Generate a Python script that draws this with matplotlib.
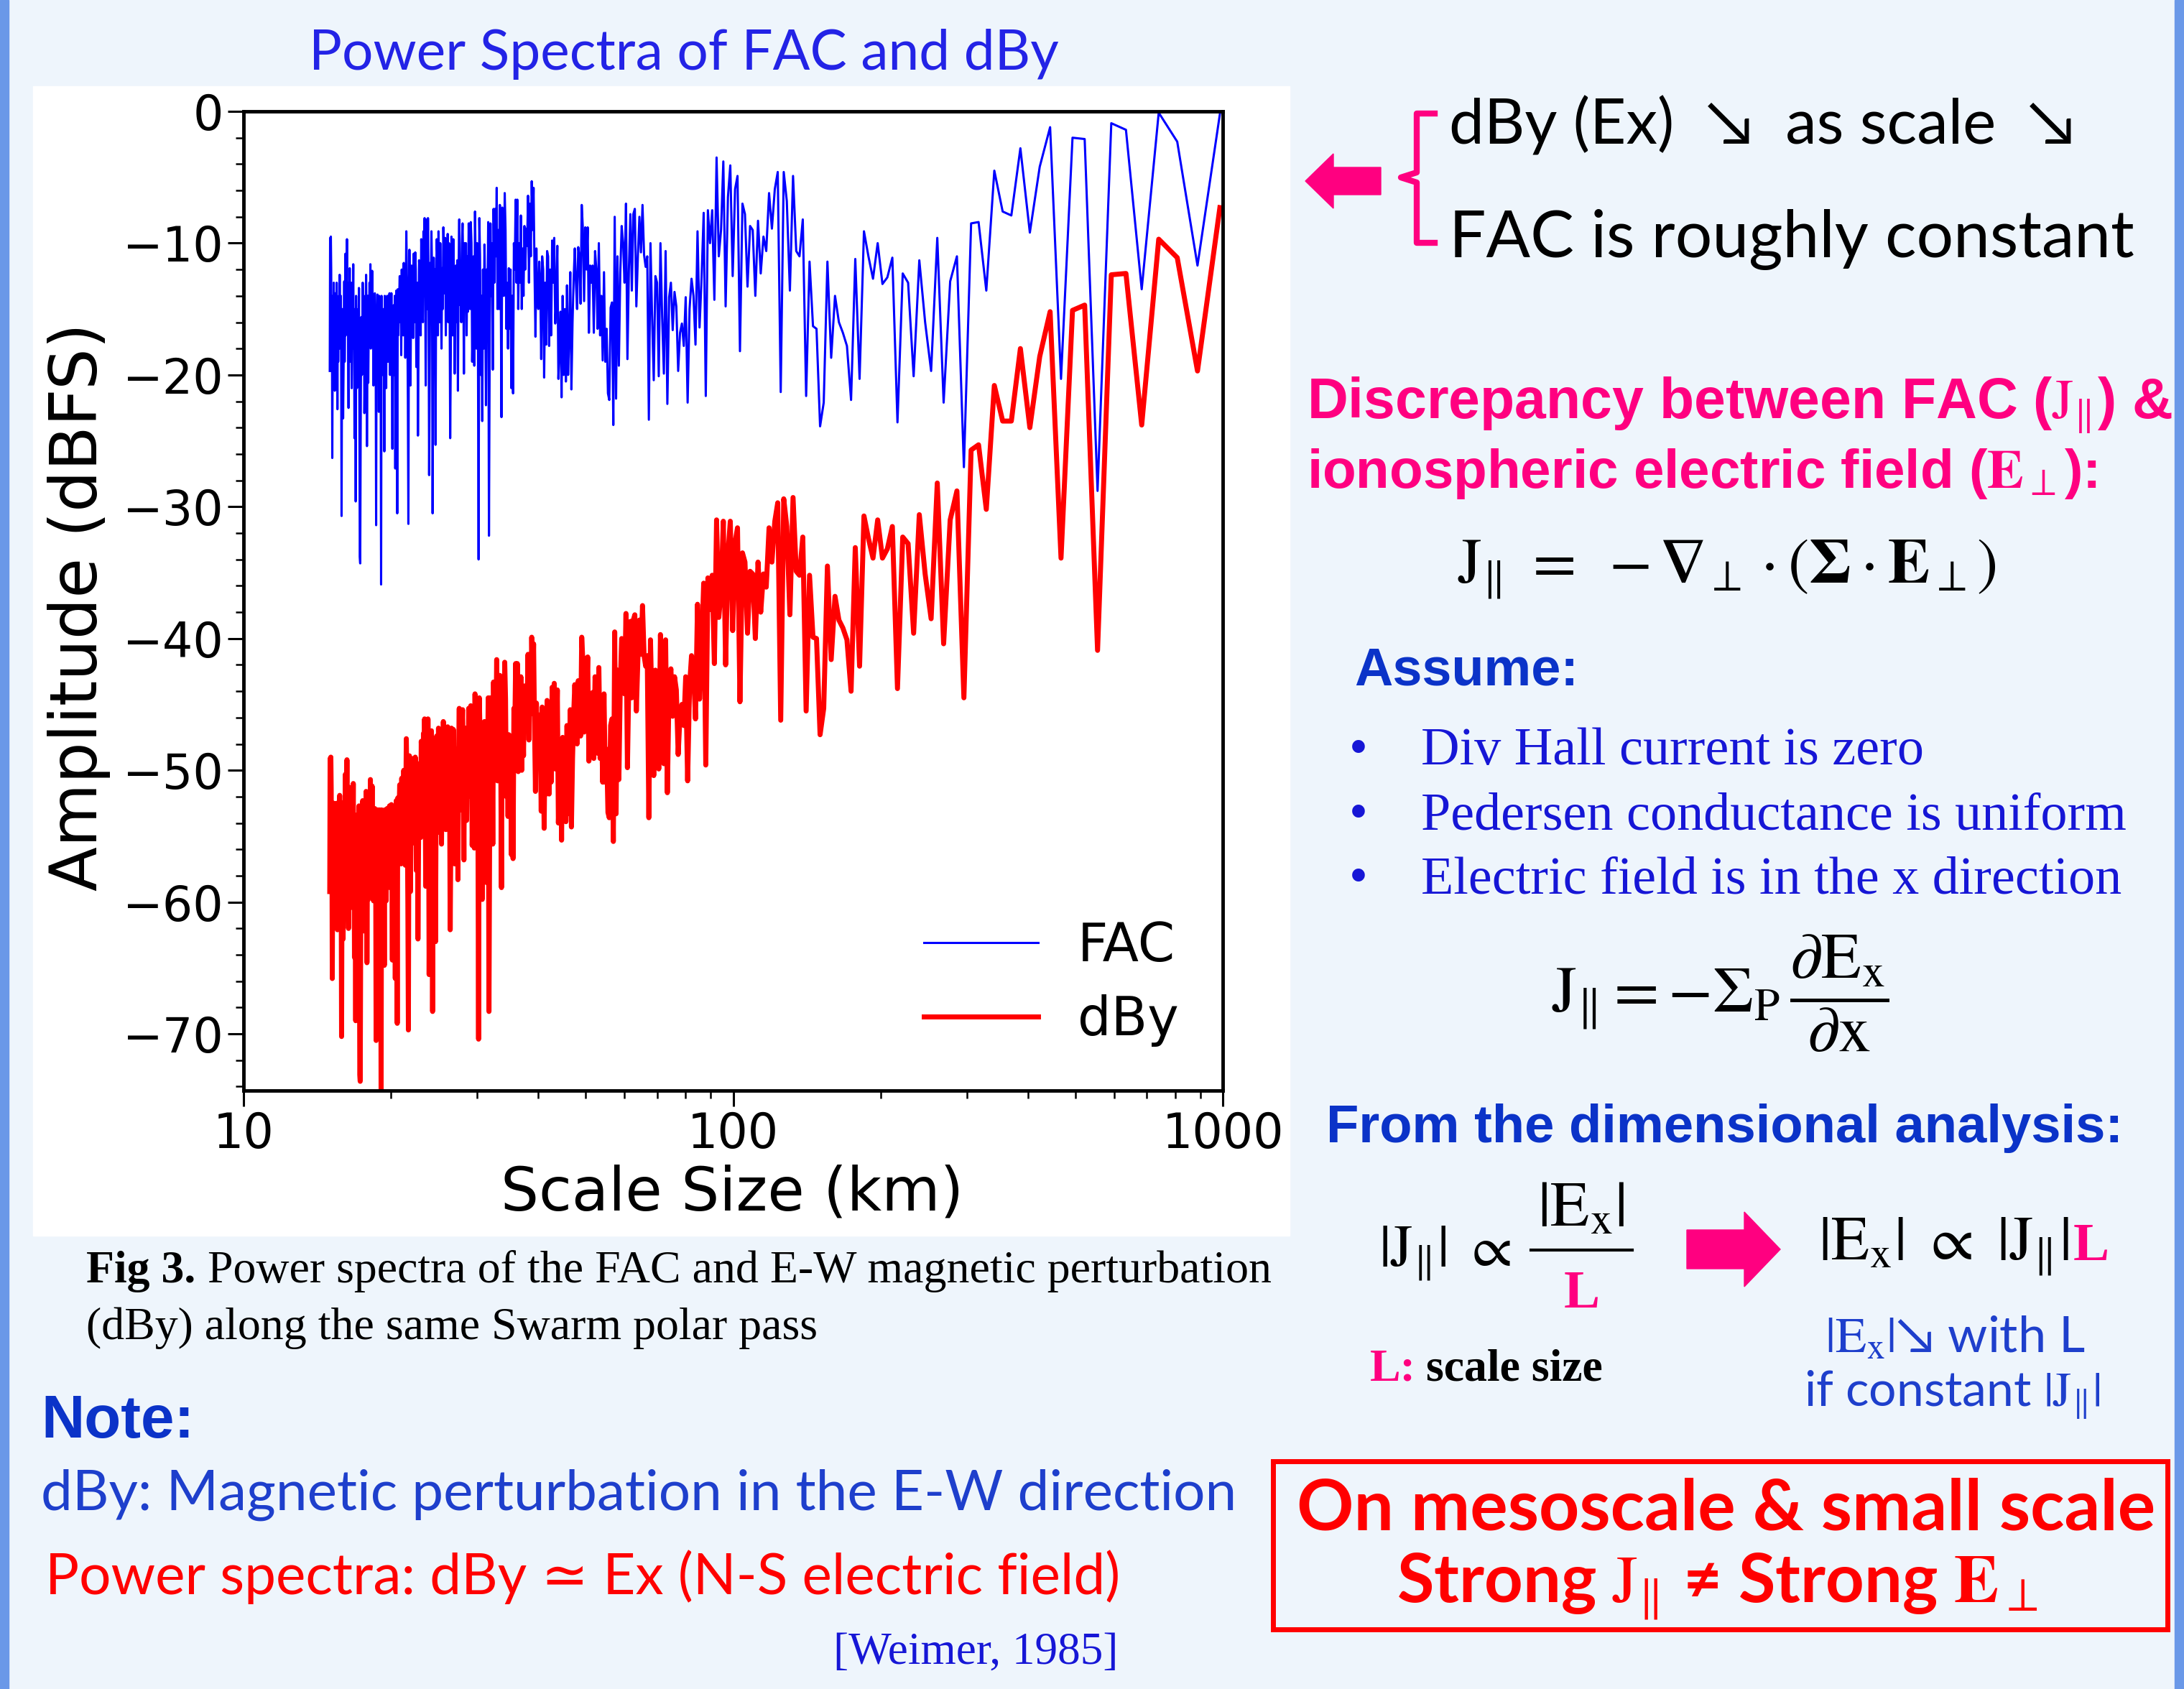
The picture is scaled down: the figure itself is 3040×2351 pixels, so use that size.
import numpy as np
import matplotlib.pyplot as plt
from matplotlib.patches import Rectangle, Polygon
from matplotlib.lines import Line2D
from matplotlib.ticker import LogLocator, MultipleLocator, NullFormatter

plt.rcParams['mathtext.fontset'] = 'stix'

W, H = 3040, 2351

# spectrum bins: scale size = pass length / wavenumber
track_km = 8880.0
wavenumber = np.arange(9, 593)
scale_km = track_km / wavenumber

fac_db = [
    -0.2, -11.7, -2.3, -0.1, -13.5, -1.4, -0.9, -28.8, -2.1, -2.0, -20.3, -1.2, -4.2, -9.2, -2.8, -7.9, -7.6, -4.5, -13.6, -8.4,
    -8.5, -27.0, -11.0, -12.9, -22.1, -9.6, -19.7, -16.0, -11.3, -20.1, -13.0, -12.3, -23.6, -11.1, -12.6, -13.1, -10.0, -12.7, -11.0, -9.1,
    -20.3, -11.2, -21.9, -17.8, -16.8, -16.0, -14.0, -18.7, -11.4, -22.1, -23.9, -16.5, -16.3, -11.4, -21.6, -8.2, -11.0, -10.6, -4.9, -13.6,
    -6.8, -4.6, -21.3, -4.6, -5.9, -8.9, -6.2, -10.6, -9.5, -12.3, -8.3, -14.0, -9.0, -8.7, -13.3, -7.8, -7.0, -18.2, -4.9, -5.9,
    -12.5, -4.1, -6.5, -14.8, -3.8, -9.0, -11.0, -3.5, -14.3, -7.5, -10.0, -7.5, -21.6, -7.7, -12.6, -16.4, -9.1, -17.7, -14.0, -12.7,
    -15.0, -22.1, -14.1, -17.8, -16.1, -16.8, -19.7, -14.8, -13.7, -16.6, -13.0, -14.1, -22.2, -10.6, -19.9, -15.6, -10.0, -20.1, -13.0, -12.5,
    -20.4, -15.6, -10.0, -23.4, -11.0, -11.8, -10.9, -7.1, -10.7, -8.0, -11.0, -14.8, -7.4, -7.8, -13.6, -7.8, -12.0, -18.8, -7.0, -13.0,
    -10.0, -8.7, -12.3, -19.3, -11.0, -21.8, -8.0, -23.8, -14.5, -14.9, -21.9, -21.4, -16.5, -19.0, -12.2, -18.9, -14.0, -17.0, -10.0, -16.5,
    -12.0, -10.6, -16.8, -11.7, -13.0, -11.7, -16.8, -8.8, -12.0, -8.8, -14.4, -9.0, -7.1, -14.6, -11.0, -10.3, -15.0, -13.0, -10.4, -12.7,
    -16.0, -21.1, -12.2, -17.0, -20.0, -13.2, -20.5, -15.0, -20.0, -14.0, -21.7, -15.2, -18.0, -20.3, -10.2, -14.0, -16.1, -9.6, -13.0, -9.8,
    -17.0, -12.0, -17.8, -11.0, -10.6, -17.7, -13.0, -20.2, -12.0, -11.0, -18.8, -13.0, -11.4, -15.0, -14.4, -10.4, -17.1, -12.0, -5.8, -9.0,
    -5.3, -11.0, -7.0, -13.0, -6.4, -10.2, -8.9, -12.0, -8.7, -14.0, -10.4, -15.0, -7.9, -13.0, -10.0, -15.0, -6.7, -13.0, -6.7, -12.0,
    -10.0, -21.4, -14.0, -21.0, -12.0, -16.5, -11.9, -18.0, -13.0, -16.5, -9.0, -6.2, -14.0, -8.0, -7.3, -23.2, -12.0, -7.1, -15.0, -9.0,
    -15.0, -5.8, -11.0, -7.4, -13.0, -7.4, -19.6, -10.0, -14.0, -8.5, -17.0, -32.2, -8.4, -15.0, -12.0, -22.3, -14.0, -10.1, -18.0, -12.0,
    -23.5, -14.0, -20.0, -11.0, -8.1, -34.0, -15.0, -10.0, -18.0, -12.0, -7.6, -19.3, -11.0, -16.0, -19.0, -10.0, -8.4, -15.0, -12.0, -8.5,
    -15.2, -11.0, -17.0, -10.0, -14.0, -10.0, -19.9, -12.0, -8.5, -10.0, -16.0, -13.3, -14.7, -8.2, -12.0, -21.2, -11.3, -16.0, -11.7, -15.0,
    -19.9, -13.0, -9.7, -17.0, -12.0, -9.5, -18.0, -24.8, -13.0, -10.0, -16.0, -9.3, -14.7, -12.0, -17.0, -9.6, -13.8, -11.0, -8.8, -15.0,
    -11.9, -18.0, -14.0, -10.0, -16.0, -12.0, -9.1, -17.0, -11.0, -9.7, -14.0, -25.3, -12.0, -16.0, -11.1, -18.0, -30.5, -12.0, -9.1, -14.0,
    -11.5, -20.0, -27.6, -13.0, -8.1, -15.0, -8.2, -13.0, -20.8, -12.0, -8.1, -14.0, -9.1, -16.0, -14.8, -11.0, -9.7, -17.0, -14.5, -12.0,
    -11.3, -18.0, -24.6, -13.0, -15.0, -19.4, -12.0, -10.7, -16.0, -13.0, -10.8, -17.2, -14.0, -12.0, -11.7, -15.0, -20.8, -13.0, -10.5, -14.0,
    -31.3, -21.8, -16.0, -12.0, -9.1, -14.0, -18.7, -12.0, -15.0, -11.5, -17.0, -13.0, -15.1, -12.0, -18.5, -13.6, -16.0, -12.5, -14.0, -15.0,
    -17.0, -13.5, -30.5, -16.0, -13.6, -18.0, -27.1, -14.0, -20.0, -14.7, -17.0, -15.0, -25.6, -18.0, -13.8, -18.7, -15.0, -20.0, -13.8, -17.0,
    -14.0, -19.0, -15.0, -14.0, -15.0, -21.0, -15.5, -18.0, -14.0, -25.8, -17.0, -15.0, -15.8, -20.0, -17.0, -14.0, -35.9, -18.0, -16.5, -19.0,
    -14.0, -22.8, -16.0, -19.0, -13.9, -17.0, -15.0, -31.4, -18.0, -15.0, -13.8, -17.0, -15.0, -20.8, -14.0, -17.0, -12.1, -16.0, -14.0, -18.0,
    -11.6, -15.0, -13.0, -15.1, -17.0, -20.6, -14.0, -19.0, -25.4, -16.0, -12.4, -17.0, -14.0, -20.0, -22.9, -15.0, -18.0, -15.1, -13.0, -17.0,
    -20.0, -15.6, -18.0, -25.0, -34.3, -33.8, -22.0, -13.4, -18.0, -15.0, -20.0, -16.0, -21.0, -18.0, -14.0, -29.6, -17.0, -20.0, -24.8, -15.0,
    -18.0, -11.6, -15.0, -13.0, -17.0, -21.0, -16.0, -13.0, -15.0, -19.0, -11.9, -16.0, -14.0, -22.5, -17.0, -13.0, -15.0, -9.7, -14.0, -12.0,
    -17.0, -10.8, -16.0, -19.0, -12.9, -17.0, -20.0, -23.3, -18.0, -15.0, -20.0, -30.7, -19.0, -14.0, -16.0, -17.0, -12.4, -18.0, -14.0, -16.0,
    -19.0, -15.0, -22.6, -16.0, -13.0, -18.0, -14.0, -16.0, -13.8, -21.2, -15.0, -18.0, -13.0, -19.0, -14.0, -18.0, -26.3, -15.0, -19.7, -12.0,
    -9.5, -17.0, -9.6, -19.7,
]

dby_db = [
    -7.3, -19.7, -11.1, -9.7, -23.8, -12.3, -12.4, -40.9, -14.7, -15.1, -33.9, -15.2, -18.6, -24.0, -18.0, -23.5, -23.5, -20.8, -30.2, -25.3,
    -25.7, -44.5, -28.8, -31.0, -40.4, -28.2, -38.5, -35.1, -30.6, -39.6, -32.8, -32.3, -43.8, -31.5, -33.2, -33.9, -31.0, -33.9, -32.4, -30.7,
    -42.1, -33.1, -44.0, -40.1, -39.2, -38.6, -36.8, -41.6, -34.5, -45.3, -47.3, -40.0, -39.9, -35.2, -45.5, -32.3, -35.2, -34.9, -29.3, -38.2,
    -31.5, -29.4, -46.2, -29.7, -31.1, -34.2, -31.6, -36.1, -35.1, -38.0, -34.2, -40.0, -35.1, -34.9, -39.6, -34.2, -33.5, -44.8, -31.6, -32.7,
    -39.4, -31.1, -33.6, -42.0, -31.1, -36.4, -38.4, -31.0, -41.9, -35.2, -37.8, -35.4, -49.6, -35.8, -40.8, -44.6, -37.4, -46.1, -42.5, -41.3,
    -43.6, -50.8, -42.9, -46.6, -45.0, -45.8, -48.8, -43.9, -42.9, -45.9, -42.3, -43.5, -51.7, -40.1, -49.5, -45.3, -39.7, -49.9, -42.9, -42.4,
    -50.4, -45.7, -40.1, -53.6, -41.3, -42.1, -41.3, -37.5, -41.2, -38.6, -41.6, -45.5, -38.2, -38.6, -44.5, -38.7, -43.0, -49.8, -38.1, -44.2,
    -41.2, -40.0, -43.6, -50.7, -42.4, -53.3, -39.5, -55.4, -46.1, -46.6, -53.6, -53.2, -48.4, -50.9, -44.2, -50.9, -46.1, -49.1, -42.2, -48.7,
    -44.3, -42.9, -49.1, -44.1, -45.4, -44.2, -49.3, -41.4, -44.6, -41.5, -47.1, -41.8, -39.9, -47.4, -43.9, -43.2, -48.0, -46.0, -43.5, -45.8,
    -49.1, -54.3, -45.4, -50.3, -53.3, -46.6, -53.9, -48.4, -53.5, -47.5, -55.3, -48.8, -51.6, -54.0, -43.9, -47.7, -49.9, -43.4, -46.8, -43.7,
    -50.9, -46.0, -51.8, -45.0, -44.7, -51.8, -47.1, -54.4, -46.2, -45.2, -53.1, -47.3, -45.8, -49.4, -48.8, -44.9, -51.6, -46.5, -40.4, -43.6,
    -39.9, -45.7, -41.7, -47.7, -41.2, -45.0, -43.7, -46.9, -43.6, -48.9, -45.4, -50.0, -42.9, -48.1, -45.1, -50.1, -41.9, -48.2, -41.9, -47.2,
    -45.3, -56.7, -49.3, -56.4, -47.4, -51.9, -47.3, -53.5, -48.5, -52.0, -44.6, -41.8, -49.6, -43.6, -43.0, -58.9, -47.7, -42.8, -50.8, -44.8,
    -50.8, -41.6, -46.9, -43.3, -48.9, -43.3, -55.6, -46.0, -50.0, -44.5, -53.1, -68.3, -44.5, -51.2, -48.2, -58.5, -50.2, -46.3, -54.3, -48.3,
    -59.8, -50.3, -56.4, -47.4, -44.5, -70.4, -51.5, -46.5, -54.5, -48.5, -44.2, -55.9, -47.6, -52.6, -55.7, -46.7, -45.1, -51.7, -48.7, -45.3,
    -52.0, -47.8, -53.8, -46.8, -50.9, -46.9, -56.8, -48.9, -45.4, -47.0, -53.0, -50.3, -51.7, -45.3, -49.1, -58.3, -48.4, -53.1, -48.9, -52.2,
    -57.1, -50.2, -46.9, -54.2, -49.3, -46.8, -55.3, -62.1, -50.3, -47.4, -53.4, -46.7, -52.1, -49.4, -54.5, -47.1, -51.3, -48.5, -46.3, -52.5,
    -49.5, -55.6, -51.6, -47.6, -53.6, -49.6, -46.8, -54.7, -48.7, -47.4, -51.7, -63.0, -49.8, -53.8, -48.9, -55.8, -68.3, -49.8, -47.0, -51.9,
    -49.4, -57.9, -65.5, -50.9, -46.1, -53.0, -46.2, -51.0, -58.8, -50.0, -46.1, -52.1, -47.2, -54.1, -52.9, -49.1, -47.8, -55.1, -52.7, -50.2,
    -49.5, -56.2, -62.8, -51.2, -53.2, -57.6, -50.2, -49.0, -54.3, -51.3, -49.1, -55.5, -52.3, -50.3, -50.1, -53.4, -59.2, -51.4, -48.9, -52.4,
    -69.7, -60.2, -54.4, -50.5, -47.6, -52.5, -57.2, -50.5, -53.5, -50.0, -55.6, -51.6, -53.7, -50.6, -57.1, -52.2, -54.6, -51.1, -52.6, -53.6,
    -55.6, -52.1, -69.2, -54.7, -52.3, -56.7, -65.8, -52.8, -58.8, -53.5, -55.8, -53.8, -64.4, -56.8, -52.6, -57.5, -53.8, -58.9, -52.7, -55.9,
    -52.9, -57.9, -53.9, -52.9, -53.9, -59.9, -54.4, -57.0, -53.0, -64.8, -56.0, -54.0, -54.8, -59.0, -56.0, -53.0, -74.9, -57.0, -55.5, -58.0,
    -53.0, -61.8, -55.1, -58.1, -53.0, -56.1, -54.1, -70.5, -57.1, -54.1, -52.9, -56.1, -54.1, -59.9, -53.1, -56.1, -51.2, -55.1, -53.1, -57.1,
    -50.7, -54.1, -52.2, -54.3, -56.2, -59.8, -53.2, -58.2, -64.6, -55.2, -51.6, -56.2, -53.3, -59.3, -62.2, -54.3, -57.3, -54.4, -52.3, -56.3,
    -59.3, -54.9, -57.3, -64.3, -73.6, -73.1, -61.3, -52.7, -57.3, -54.3, -59.3, -55.3, -60.4, -57.4, -53.4, -69.0, -56.4, -59.4, -64.2, -54.4,
    -57.4, -51.0, -54.4, -52.4, -56.4, -60.4, -55.4, -52.4, -54.4, -58.4, -51.3, -55.4, -53.5, -62.0, -56.5, -52.5, -54.5, -49.2, -53.5, -51.5,
    -56.5, -50.3, -55.5, -58.5, -52.4, -56.5, -59.5, -62.8, -57.5, -54.5, -59.5, -70.2, -58.5, -53.5, -55.5, -56.5, -51.9, -57.5, -53.5, -55.5,
    -58.5, -54.5, -62.1, -55.5, -52.5, -57.5, -53.5, -55.5, -53.3, -60.7, -54.5, -57.5, -52.5, -58.5, -53.5, -57.5, -65.8, -54.5, -59.2, -51.5,
    -49.0, -56.5, -49.1, -59.2,
]

series_labels = ['FAC', 'dBy']
xtick_values = [10, 100, 1000]
xtick_labels = ['10', '100', '1000']
ytick_values = [-70, -60, -50, -40, -30, -20, -10, 0]

MAGENTA = '#FF0080'
BLUE_HEAD = '#0B33C8'
BLUE_TXT = '#1E3FCC'
BLUE_SERIF = '#1616D6'
SANS = ['Lato', 'DejaVu Sans']

fig = plt.figure(figsize=(W / 100, H / 100), dpi=100)
fig.patch.set_facecolor('#EEF5FC')
renderer = fig.canvas.get_renderer()


def fx(px):
    return px / W


def fy(py):
    return 1 - py / H


def P(x, y):
    return (fx(x), fy(y))


def put(x, y, s, width=None, size=40, ha='left', va='baseline', **kw):
    t = fig.text(fx(x), fy(y), s, fontsize=size, ha=ha, va=va, **kw)
    if width:
        w = t.get_window_extent(renderer).width
        t.set_fontsize(size * width / w)
    return t


def right_px(t):
    return t.get_window_extent(renderer).x1


# slide frame
fig.add_artist(Rectangle((0, 0), fx(12), 1, transform=fig.transFigure, color='#6A98E8', zorder=0))
fig.add_artist(Rectangle((fx(3027), 0), fx(13), 1, transform=fig.transFigure, color='#6A98E8', zorder=0))
fig.add_artist(Rectangle(P(46, 1720), fx(1795) - fx(46), fy(120) - fy(1720),
                         transform=fig.transFigure, color='white', zorder=0))

# ---- spectrum plot ----
ax = fig.add_axes([fx(339), fy(1518), fx(1702) - fx(339), fy(155) - fy(1518)])
ax.plot(scale_km, fac_db, color='#0000FF', lw=2.2, label=series_labels[0])
ax.plot(scale_km, dby_db, color='#FF0000', lw=5, label=series_labels[1])
ax.set_xscale('log')
ax.set_xlim(10, 1000)
ax.set_ylim(-74.3, 0)
ax.set_xticks(xtick_values)
ax.set_xticklabels(xtick_labels)
ax.xaxis.set_minor_locator(LogLocator(base=10, subs=np.arange(2, 10)))
ax.xaxis.set_minor_formatter(NullFormatter())
ax.set_yticks(ytick_values)
ax.yaxis.set_minor_locator(MultipleLocator(2))
ax.tick_params(which='major', length=16, width=2.2, labelsize=48, pad=4)
ax.tick_params(which='minor', length=8, width=1.8)
for sp in ax.spines.values():
    sp.set_linewidth(3.5)
ax.legend(loc='lower right', bbox_to_anchor=(0.955, 0.045), frameon=False, fontsize=53,
          handlelength=2.15, handletextpad=0.75, labelspacing=0.4, borderpad=0, borderaxespad=0)

put(1019, 1661, 'Scale Size (km)', width=645, size=60, ha='center', va='center')
put(110, 845, 'Amplitude (dBFS)', width=791, size=60, ha='center', va='center').set_rotation(90)

put(952, 97, 'Power Spectra of FAC and dBy', width=1044, size=50, ha='center',
    family=SANS, color='#2323E6')

# caption
b = put(120, 1785, 'Fig 3.', size=40, family='Liberation Serif', weight='bold')
r = put(120, 1785, ' Power spectra of the FAC and E-W magnetic perturbation', size=40,
        family='Liberation Serif')
w1 = b.get_window_extent(renderer).width
w2 = r.get_window_extent(renderer).width
k = 1648 / (w1 + w2)
b.set_fontsize(40 * k)
r.set_fontsize(40 * k)
r.set_x(fx(120 + w1 * k))
put(120, 1864, '(dBy) along the same Swarm polar pass', size=40 * k, family='Liberation Serif')

# note
put(57, 2001, 'Note:', width=213, size=58, family='Liberation Sans', weight='bold', color=BLUE_HEAD)
put(57, 2102, 'dBy: Magnetic perturbation in the E-W direction', width=1665, size=50,
    family=SANS, color=BLUE_TXT)
put(63, 2219, 'Power spectra: dBy \u2243 Ex (N-S electric field)', width=1498, size=50,
    family=SANS, color='#FF0000')
put(1160, 2316, '[Weimer, 1985]', width=396, size=42, family='Liberation Serif', color=BLUE_SERIF)

# ---- right column ----
fig.add_artist(Polygon([P(1817, 252), P(1856, 214), P(1856, 233), P(1922, 233), P(1922, 271),
                        P(1856, 271), P(1856, 290)], closed=True, transform=fig.transFigure,
                       color=MAGENTA))
bx = [1997, 1972, 1972, 1950, 1972, 1972, 1997]
by = [158, 158, 240, 247, 254, 338, 338]
fig.add_artist(Line2D([fx(v) for v in bx], [fy(v) for v in by], transform=fig.transFigure,
                      lw=6, color=MAGENTA, solid_joinstyle='round'))
put(2017, 200, 'dBy (Ex)  \u2198  as scale  \u2198', width=872, size=62, family=SANS, color='black')
put(2017, 358, 'FAC is roughly constant', width=954, size=62, family=SANS, color='black')

put(1819, 583, r'Discrepancy between FAC ($\mathrm{J}_{\|}$) &', width=1206, size=52,
    family='Liberation Sans', weight='bold', color=MAGENTA)
put(1819, 679, r'ionospheric electric field ($\mathbf{E}_{\perp}$):', width=1100, size=52,
    family='Liberation Sans', weight='bold', color=MAGENTA)

put(2404, 792, r'$\mathrm{J}_{\|}\ =\ -\mathbf{\nabla}_{\perp}\cdot(\mathbf{\Sigma}\cdot\mathbf{E}_{\perp})$',
    width=750, size=60, ha='center', va='center', color='black')

put(1885, 954, 'Assume:', width=312, size=48, family='Liberation Sans', weight='bold', color=BLUE_HEAD)
bul = put(1978, 1154, 'Pedersen conductance is uniform', width=983, size=44,
          family='Liberation Serif', color=BLUE_SERIF)
bs = bul.get_fontsize()
put(1978, 1064, 'Div Hall current is zero', size=bs, family='Liberation Serif', color=BLUE_SERIF)
put(1978, 1243, 'Electric field is in the x direction', size=bs, family='Liberation Serif', color=BLUE_SERIF)
for yb in (1064, 1154, 1243):
    put(1891, yb, '\u2022', size=bs, ha='center', family='Liberation Serif', color=BLUE_SERIF)

put(2395, 1383, r'$\mathrm{J}_{\|} = -\Sigma_{\mathrm{P}}\,\dfrac{\partial\mathrm{E}_{\mathrm{x}}}{\partial\mathrm{x}}$',
    width=470, size=60, ha='center', va='center', color='black')

put(1846, 1590, 'From the dimensional analysis:', width=1110, size=48,
    family='Liberation Sans', weight='bold', color=BLUE_HEAD)

put(1919, 1745, r'$|\mathrm{J}_{\|}|\ \propto$', width=184, size=56, va='center', color='black')
fig.add_artist(Line2D([fx(2131), fx(2272)], [fy(1740), fy(1740)], transform=fig.transFigure,
                      lw=3, color='black'))
put(2201, 1681, r'$|\mathrm{E}_{\mathrm{x}}|$', width=122, size=56, ha='center', va='center', color='black')
put(2202, 1820, 'L', size=54, ha='center', family='Liberation Serif', weight='bold', color=MAGENTA)

fig.add_artist(Polygon([P(2348, 1712), P(2428, 1712), P(2428, 1687), P(2478, 1739), P(2428, 1791),
                        P(2428, 1766), P(2348, 1766)], closed=True, transform=fig.transFigure,
                       color=MAGENTA))
e = put(2531, 1736, r'$|\mathrm{E}_{\mathrm{x}}|\ \propto\ |\mathrm{J}_{\|}|$', width=349, size=56,
        va='center', color='black')
put(right_px(e) + 6, 1754, 'L', size=54, family='Liberation Serif', weight='bold', color=MAGENTA)

put(2540, 1863, r'$|\mathrm{E}_{\mathrm{x}}|$' + '\u2198 with L', width=363, size=40,
    va='center', family=SANS, color=BLUE_TXT)
put(2511, 1941, r'if constant $|\mathrm{J}_{\|}|$', width=412, size=40,
    va='center', family=SANS, color=BLUE_TXT)

lc = put(1907, 1921, 'L:', size=46, family='Liberation Serif', weight='bold', color=MAGENTA)
put(right_px(lc) + 14, 1921, 'scale size', size=46, family='Liberation Serif', weight='bold', color='black')

fig.add_artist(Rectangle(P(1772, 2268), fx(3017) - fx(1772), fy(2034) - fy(2268),
                         transform=fig.transFigure, fill=False, edgecolor='#FF0000', lw=5))
put(1805, 2129, 'On mesoscale & small scale', width=1195, size=60, family=SANS,
    weight='bold', color='#FF0000')
put(1944, 2230, r'Strong $\mathrm{J}_{\|}$ ' + '\u2260' + r' Strong $\mathbf{E}_{\perp}$',
    width=894, size=60, family=SANS, weight='bold', color='#FF0000')

fig.savefig('out.png', dpi=100, facecolor=fig.get_facecolor())
